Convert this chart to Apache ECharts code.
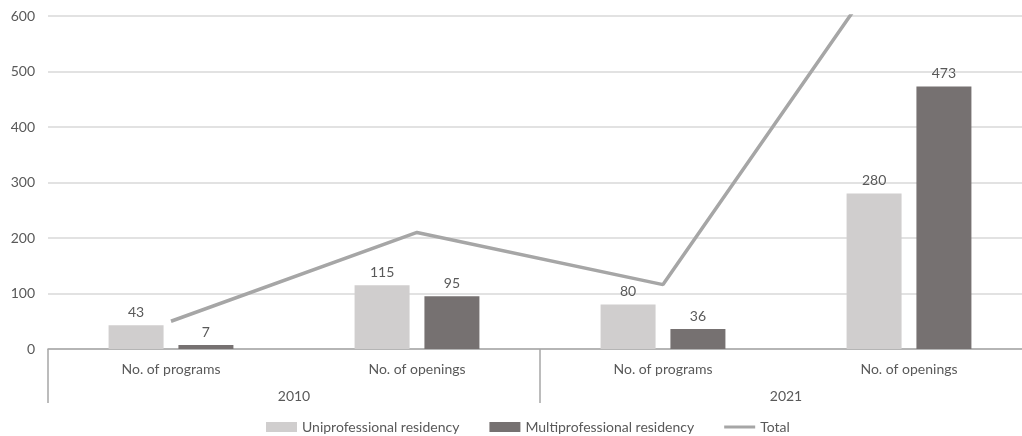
<!DOCTYPE html>
<html>
<head>
<meta charset="utf-8">
<script src="https://cdn.jsdelivr.net/npm/echarts@6/dist/echarts.min.js"></script>
<style>
html,body{margin:0;padding:0;background:#fff;}
#chart{width:1022px;height:436px;}
</style>
</head>
<body>
<div id="chart"></div>
<script>
const categories = ['No. of programs', 'No. of openings', 'No. of programs', 'No. of openings'];
const groups = ['2010', '2021'];
const uniprofessional = [43, 115, 80, 280];
const multiprofessional = [7, 95, 36, 473];
const totals = [50, 210, 116, 753];
const yTicks = [0, 100, 200, 300, 400, 500, 600];

const FONT = 'Lato, "Open Sans", sans-serif';
const TXT = '#595959';

const chart = echarts.init(document.getElementById('chart'), null, {renderer: 'canvas'});
chart.setOption({
  animation: false,
  textStyle: {fontFamily: FONT},
  grid: {left: 48, width: 984, top: 16, bottom: 87, containLabel: false, outerBoundsMode: 'none'},
  legend: {
    bottom: -3,
    left: 261,
    itemWidth: 31,
    itemHeight: 10,
    itemGap: 30,
    icon: 'rect',
    textStyle: {color: TXT, fontSize: 14, fontFamily: FONT},
    data: [
      {name: 'Uniprofessional residency'},
      {name: 'Multiprofessional residency'},
      {name: 'Total', icon: 'path://M0,4 L31,4 L31,7 L0,7 Z'}
    ]
  },
  xAxis: [
    {
      type: 'category',
      data: categories,
      position: 'bottom',
      axisLine: {show: true, lineStyle: {color: '#a6a6a6', width: 1.5}},
      axisTick: {show: false},
      axisLabel: {color: TXT, fontSize: 14, fontFamily: FONT, margin: 13}
    },
    {
      type: 'category',
      data: groups,
      position: 'bottom',
      axisLine: {show: false},
      axisTick: {show: true, length: 54, lineStyle: {color: '#a6a6a6', width: 1.5}},
      axisLabel: {color: TXT, fontSize: 14, fontFamily: FONT, margin: 40},
      splitLine: {show: false}
    }
  ],
  yAxis: {
    type: 'value',
    min: yTicks[0],
    max: yTicks[yTicks.length - 1],
    interval: 100,
    axisLine: {show: false},
    axisTick: {show: false},
    axisLabel: {color: TXT, fontSize: 14, fontFamily: FONT, margin: 13},
    splitLine: {lineStyle: {color: '#d9d9d9', width: 1.5}}
  },
  series: [
    {
      name: 'Uniprofessional residency',
      type: 'bar',
      data: uniprofessional,
      barWidth: 55,
      barGap: '27%',
      itemStyle: {color: '#d0cece'},
      label: {show: true, position: 'top', distance: 6, color: TXT, fontSize: 14, fontFamily: FONT}
    },
    {
      name: 'Multiprofessional residency',
      type: 'bar',
      data: multiprofessional,
      barWidth: 55,
      barGap: '27%',
      itemStyle: {color: '#767171'},
      label: {show: true, position: 'top', distance: 6, color: TXT, fontSize: 14, fontFamily: FONT}
    },
    {
      name: 'Total',
      type: 'line',
      data: totals,
      symbol: 'none',
      clip: true,
      itemStyle: {color: '#a6a6a6'},
      lineStyle: {color: '#a6a6a6', width: 3.5}
    }
  ]
});
</script>
</body>
</html>
